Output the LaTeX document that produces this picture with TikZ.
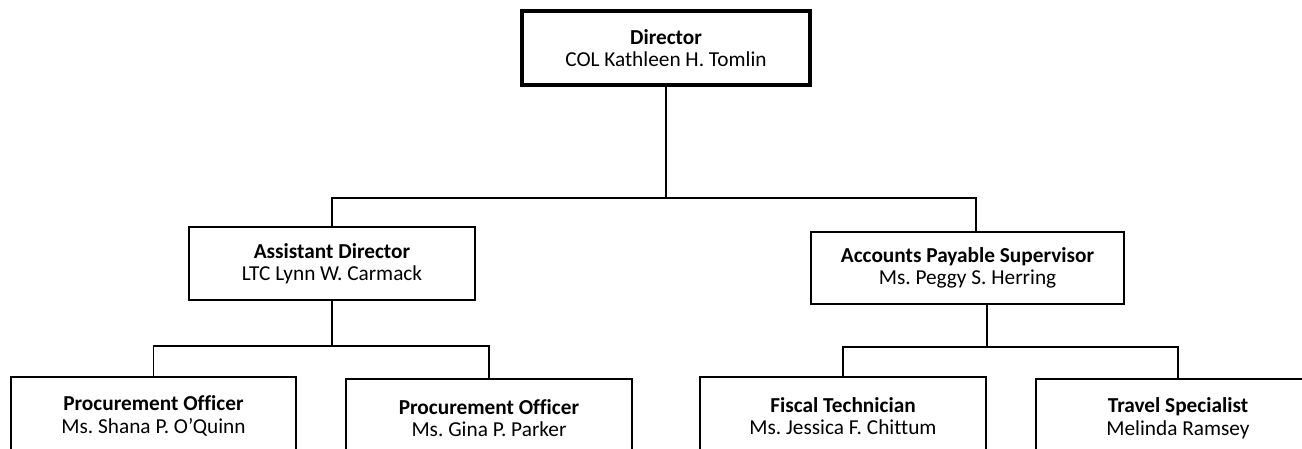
\documentclass[tikz,border=0pt]{standalone}
\usepackage{fontspec}
\setmainfont{Carlito}[Ligatures=NoCommon]
\usepackage{tikz}
\usetikzlibrary{positioning}
\frenchspacing
\tikzstyle{box} = [draw, line width=1.6pt, align=center, inner sep=0pt, minimum width=286pt, minimum height=73pt, font=\fontsize{21.3}{22.5}\selectfont]
\tikzstyle{topbox} = [box, line width=4.5pt]
\tikzstyle{staffbox} = [box, minimum height=78pt]
\tikzstyle{line} = [draw, line width=1.6pt]

\begin{document}
\begin{tikzpicture}[x=1pt, y=1pt]
		            \useasboundingbox (0,0) rectangle (1302,448);
		                % top
		                \node[topbox, minimum width=288pt, minimum height=74pt] (dir) at (666,400) {\textbf{Director}\\COL Kathleen H. Tomlin};
		                % second row
		                \node[box] (asst) at (332,184.5) {\textbf{Assistant Director}\\LTC Lynn W. Carmack};
		                \node[box, minimum width=313pt, minimum height=72pt] (aps) at (967.5,180) {\textbf{Accounts Payable Supervisor}\\Ms. Peggy S. Herring};
		                % bottom row
		                \node[staffbox, minimum width=285pt] (proc1) at (153.5,32) {\textbf{Procurement Officer}\\Ms. Shana P. O’Quinn};
		                \node[staffbox] (proc2) at (489,30) {\textbf{Procurement Officer}\\Ms. Gina P. Parker};
		                \node[staffbox] (fisc) at (843,32) {\textbf{Fiscal Technician}\\Ms. Jessica F. Chittum};
		                \node[staffbox, minimum width=284pt] (trav) at (1178,30) {\textbf{Travel Specialist}\\Melinda Ramsey};
		                % bus points
		                \coordinate (bus1) at (666,250);
		                \coordinate (bus2) at (332,102);
		                \coordinate (bus3) at (987,101);
		                \path [line] (dir.south) -- (bus1);
		                \path [line] (asst.north) |- (bus1) -| ([xshift=8.5pt]aps.north);
		                \path [line] (asst.south) -- (bus2);
		                \path [line] (proc1.north) |- (bus2) -| (proc2.north);
		                \path [line] ([xshift=19.5pt]aps.south) -- (bus3);
		                \path [line] (fisc.north) |- (bus3) -| (trav.north);
		            \end{tikzpicture}
\end{document}
